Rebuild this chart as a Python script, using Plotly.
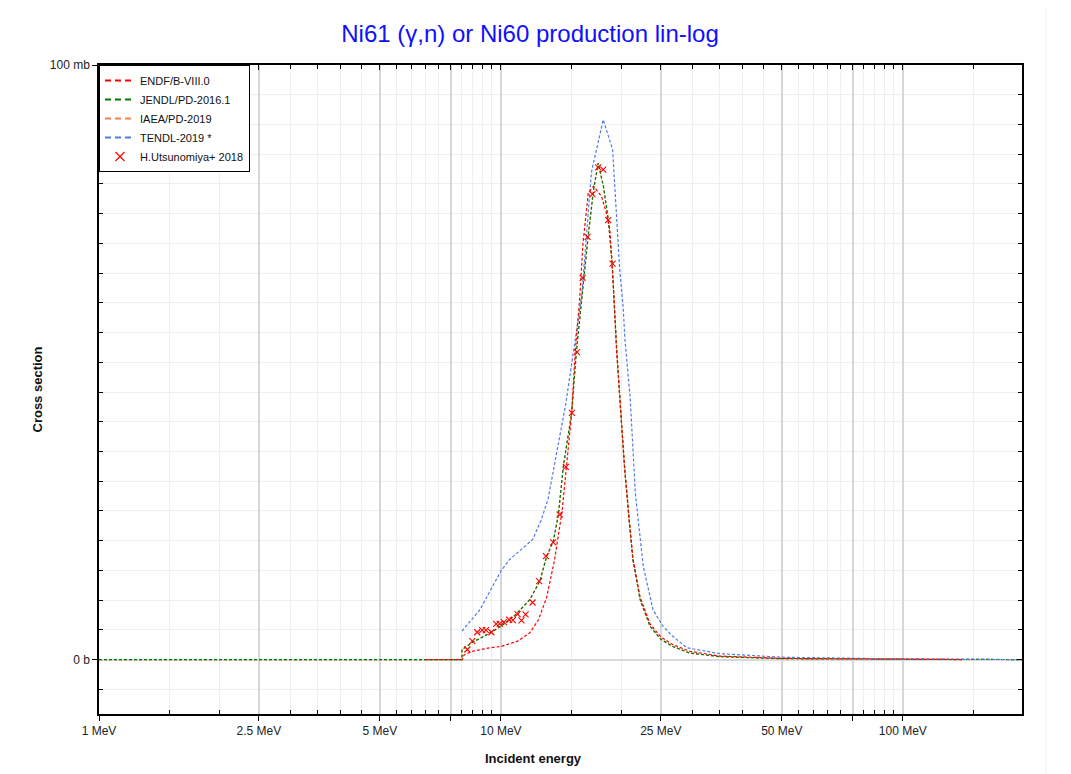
import plotly.graph_objects as go

# ---------------- data ----------------
# ENDF/B-VIII.0
endf_e = [6.5, 8.0, 8.1, 8.5, 9.4, 10.0, 11.0, 11.8, 12.4, 13.0, 13.6, 14.0, 14.2, 14.56, 15.0, 15.3,
          15.7, 16.0, 16.5, 17.0, 17.8, 18.3, 18.66, 19.0, 19.4, 19.9, 20.3, 20.85, 21.3, 22.2, 23.5,
          25.0, 26.8, 29.5, 35.0, 50.0, 100.0, 140.0]
endf_xs = [0.0, 0.0, 0.8, 1.4, 2.0, 2.2, 3.1, 4.5, 6.7, 10.5, 16.8, 22.0, 25.0, 32.5, 41.5, 51.6,
           60.6, 70.0, 78.5, 79.6, 77.9, 75.1, 72.3, 64.0, 52.0, 41.0, 32.5, 23.5, 17.0, 10.5, 6.0,
           3.8, 2.5, 1.4, 0.6, 0.2, 0.05, 0.0]

# JENDL/PD-2016.1
jendl_e = [1.0, 8.0, 8.0, 8.5, 9.4, 10.0, 10.9, 11.8, 12.5, 13.0, 13.5, 13.9, 14.3, 15.0, 15.4, 15.9,
           16.5, 17.0, 17.46, 18.0, 18.5, 18.9, 19.4, 19.9, 20.3, 20.85, 21.3, 22.2, 23.5, 25.0, 26.8,
           29.5, 35.0, 50.0, 100.0, 200.0]
jendl_xs = [0.0, 0.0, 1.7, 2.9, 4.5, 5.6, 7.6, 10.1, 13.2, 17.4, 19.9, 24.4, 32.5, 41.5, 51.6, 61.0,
            71.5, 79.0, 83.5, 79.5, 74.0, 67.0, 52.5, 41.0, 32.5, 23.5, 16.8, 10.1, 5.6, 3.4, 2.2,
            1.1, 0.5, 0.15, 0.02, 0.0]

# IAEA/PD-2019 (coincides with JENDL in the picture)
iaea_e = [1.0, 8.0, 8.0, 8.5, 9.4, 10.0, 10.9, 11.8, 12.5, 13.0, 13.5, 13.9, 14.3, 15.0, 15.4, 15.9,
          16.5, 17.0, 17.46, 18.0, 18.5, 18.9, 19.4, 19.9, 20.3, 20.85, 21.3, 22.2, 23.5, 25.0, 26.8,
          29.5, 35.0, 50.0, 100.0, 200.0]
iaea_xs = [0.0, 0.0, 1.7, 2.9, 4.5, 5.6, 7.6, 10.1, 13.2, 17.4, 19.9, 24.4, 32.5, 41.5, 51.6, 61.0,
           71.5, 79.0, 83.5, 79.5, 74.0, 67.0, 52.5, 41.0, 32.5, 23.5, 16.8, 10.1, 5.6, 3.4, 2.2,
           1.1, 0.5, 0.15, 0.02, 0.0]

# TENDL-2019
tendl_e = [8.0, 8.87, 10.0, 10.5, 12.0, 12.6, 13.1, 13.6, 14.5, 15.4, 15.9, 16.8, 17.97, 18.96, 19.4,
           19.75, 20.14, 20.34, 20.97, 21.6, 22.0, 22.6, 23.9, 25.3, 26.8, 29.0, 35.0, 50.0, 100.0, 200.0]
tendl_xs = [4.8, 8.4, 14.9, 16.8, 20.2, 23.5, 27.0, 33.0, 43.0, 55.0, 61.5, 82.0, 90.8, 85.8, 74.5,
            65.6, 59.4, 54.0, 44.0, 28.0, 23.0, 15.7, 8.4, 5.6, 3.9, 2.0, 1.0, 0.4, 0.1, 0.0]

# H.Utsunomiya+ 2018 (experimental)
exp_e = [8.25, 8.49, 8.73, 8.98, 9.18, 9.47, 9.73, 9.93, 10.17, 10.49, 10.71, 11.0, 11.25, 11.52,
         11.99, 12.45, 12.94, 13.49, 14.0, 14.51, 15.02, 15.46, 15.97, 16.43, 16.89, 17.46, 17.97,
         18.49, 18.96]
exp_xs = [1.7, 3.1, 4.6, 4.95, 4.95, 4.6, 6.0, 6.0, 6.3, 6.7, 6.65, 7.65, 6.6, 7.6,
          9.6, 13.2, 17.4, 19.7, 24.4, 32.4, 41.5, 51.7, 64.2, 71.1, 78.3, 82.8, 82.4,
          73.9, 66.6]

# axis ticks
x_major_vals = [1, 2.5, 5, 7.5, 10, 25, 50, 75, 100]
x_major_text = ["1 MeV", "2.5 MeV", "5 MeV", "", "10 MeV", "25 MeV", "50 MeV", "", "100 MeV"]
x_minor_vals = [1.5, 2, 3, 3.5, 4, 4.5, 5.5, 6, 6.5, 7, 8, 8.5, 9, 9.5,
                15, 20, 30, 35, 40, 45, 55, 60, 65, 70, 80, 85, 90, 95, 150]
y_major_vals = [0, 100]
y_major_text = ["0 b", "100 mb"]
y_minor_vals = [-5, 5, 10, 15, 20, 25, 30, 35, 40, 45, 50, 55, 60, 65, 70, 75, 80, 85, 90, 95]

FONT = "Liberation Sans, Arial, sans-serif"
DASH = "3px,2px"
LEG_DASH = "6px,4px"

series = [
    # name, x, y, colour, rank
    ("IAEA/PD-2019", iaea_e, iaea_xs, "#ff8040", 3),
    ("JENDL/PD-2016.1", jendl_e, jendl_xs, "#007a00", 2),
    ("TENDL-2019 *", tendl_e, tendl_xs, "#4f7be8", 4),
    ("ENDF/B-VIII.0", endf_e, endf_xs, "#ff0000", 1),
]

fig = go.Figure()

for name, xe, ys, col, rank in series:
    fig.add_trace(go.Scatter(x=xe, y=ys, mode="lines", name=name, legendgroup=name,
                             showlegend=False, line=dict(color=col, width=1.2, dash=DASH)))

fig.add_trace(go.Scatter(x=exp_e, y=exp_xs, mode="markers", name="H.Utsunomiya+ 2018",
                         legendgroup="exp", showlegend=False,
                         marker=dict(symbol="x-thin-open", size=6, color="#ff0000",
                                     line=dict(color="#ff0000", width=1.1))))

# legend entries (same series, drawn with a heavier sample like the reference)
for name, xe, ys, col, rank in series:
    fig.add_trace(go.Scatter(x=[None], y=[None], mode="lines", name=name, legendgroup=name,
                             legendrank=rank, showlegend=True,
                             line=dict(color=col, width=2, dash=LEG_DASH)))
fig.add_trace(go.Scatter(x=[None], y=[None], mode="markers", name="H.Utsunomiya+ 2018",
                         legendgroup="exp", legendrank=5, showlegend=True,
                         marker=dict(symbol="x-thin-open", size=9, color="#ff0000",
                                     line=dict(color="#ff0000", width=1.2))))

# empty trace to carry the mirrored (top/right) tick axes
fig.add_trace(go.Scatter(x=[], y=[], xaxis="x2", yaxis="y2", showlegend=False, hoverinfo="skip"))

x_range = [0, 2.2965]
y_range = [-9.15, 100]

fig.update_layout(
    width=1071, height=774,
    margin=dict(l=91, r=57, t=57, b=68),
    paper_bgcolor="white", plot_bgcolor="white",
    font=dict(family=FONT, size=12, color="#222222"),
    title=dict(text="Ni61 (γ,n) or Ni60 production lin-log", x=522 / 1071, xref="container",
               y=1 - 26 / 774, yref="container", xanchor="center", yanchor="middle",
               font=dict(family=FONT, size=24, color="#1010ff")),
    showlegend=True,
    legend=dict(x=0, y=1, xanchor="left", yanchor="top", bgcolor="white",
                bordercolor="#000000", borderwidth=1, font=dict(family=FONT, size=11, color="#111111"),
                traceorder="normal", itemwidth=30, tracegroupgap=0),
    xaxis=dict(type="log", range=x_range, tickmode="array", tickvals=x_major_vals,
               ticktext=x_major_text, ticks="outside", ticklen=5, tickcolor="#000000",
               showgrid=True, gridcolor="#d6d6d6", gridwidth=1.5, zeroline=False,
               showline=True, linecolor="#000000", linewidth=1.5, mirror=True,
               tickfont=dict(family=FONT, size=12, color="#222222"),
               minor=dict(tickmode="array", tickvals=x_minor_vals, ticks="inside", ticklen=4,
                          tickcolor="#000000", showgrid=True, gridcolor="#efefef", gridwidth=1)),
    yaxis=dict(type="linear", range=y_range, tickmode="array", tickvals=y_major_vals,
               ticktext=y_major_text, ticks="outside", ticklen=5, tickcolor="#000000",
               showgrid=True, gridcolor="#d6d6d6", gridwidth=1.5,
               zeroline=True, zerolinecolor="#d9d9d9", zerolinewidth=2,
               showline=True, linecolor="#000000", linewidth=1.5, mirror=True,
               tickfont=dict(family=FONT, size=12, color="#222222"),
               minor=dict(tickmode="array", tickvals=y_minor_vals, ticks="inside", ticklen=4,
                          tickcolor="#000000", showgrid=True, gridcolor="#efefef", gridwidth=1)),
    xaxis2=dict(type="log", range=x_range, overlaying="x", side="top", anchor="y2",
                tickmode="array", tickvals=x_major_vals, ticks="inside", ticklen=5,
                tickcolor="#000000", showticklabels=False, showgrid=False, zeroline=False,
                showline=False,
                minor=dict(tickmode="array", tickvals=x_minor_vals, ticks="inside", ticklen=4,
                           tickcolor="#000000", showgrid=False)),
    yaxis2=dict(type="linear", range=y_range, overlaying="y", side="right", anchor="x2",
                tickmode="array", tickvals=y_major_vals, ticks="inside", ticklen=5,
                tickcolor="#000000", showticklabels=False, showgrid=False, zeroline=False,
                showline=False,
                minor=dict(tickmode="array", tickvals=y_minor_vals, ticks="inside", ticklen=4,
                           tickcolor="#000000", showgrid=False)),
    annotations=[
        dict(text="<b>Incident energy</b>", xref="paper", yref="paper",
             x=(533 - 99) / 923, y=(714 - 758) / 649, xanchor="center", yanchor="middle",
             showarrow=False, font=dict(family=FONT, size=13, color="#111111")),
        dict(text="<b>Cross section</b>", xref="paper", yref="paper",
             x=(37 - 99) / 923, y=0.5, xanchor="center", yanchor="middle", textangle=-90,
             showarrow=False, font=dict(family=FONT, size=13, color="#111111")),
    ],
    shapes=[
        dict(type="rect", xref="paper", yref="paper", x0=(0 - 99) / 923, x1=(1046 - 99) / 923,
             y0=(714 - 790) / 649, y1=(714 - 5) / 649, line=dict(color="#ececec", width=1),
             fillcolor="rgba(0,0,0,0)", layer="below"),
    ],
)

fig.write_html("out.html")
